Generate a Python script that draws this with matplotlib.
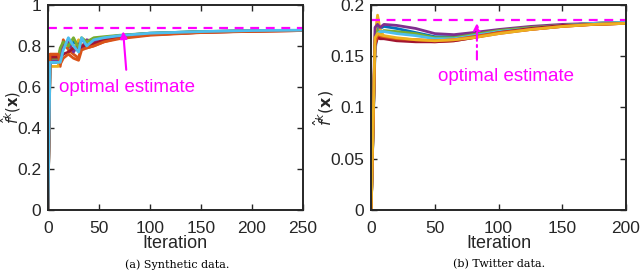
import matplotlib
matplotlib.use("Agg")
import matplotlib.pyplot as plt
from matplotlib.ticker import FuncFormatter

# ---------------- data ----------------
syn_iter = [0, 2, 10, 12, 15, 20, 25, 30, 33, 38, 45, 55, 70, 100, 150, 200, 250]
syn_s1 = [0, 0.720, 0.720, 0.780, 0.800, 0.790, 0.820, 0.800, 0.830, 0.810, 0.830, 0.840, 0.850, 0.862, 0.870, 0.874, 0.876]
syn_s2 = [0, 0.750, 0.750, 0.700, 0.830, 0.780, 0.760, 0.740, 0.800, 0.790, 0.800, 0.820, 0.840, 0.855, 0.866, 0.872, 0.875]
syn_s3 = [0, 0.700, 0.700, 0.770, 0.790, 0.810, 0.780, 0.830, 0.800, 0.820, 0.820, 0.840, 0.845, 0.858, 0.868, 0.873, 0.876]
syn_s4 = [0, 0.730, 0.730, 0.760, 0.800, 0.820, 0.770, 0.810, 0.790, 0.830, 0.820, 0.835, 0.850, 0.860, 0.869, 0.874, 0.876]
syn_s5 = [0, 0.740, 0.740, 0.790, 0.820, 0.800, 0.840, 0.790, 0.840, 0.820, 0.840, 0.845, 0.852, 0.862, 0.870, 0.874, 0.876]
syn_s6 = [0, 0.745, 0.745, 0.740, 0.760, 0.770, 0.790, 0.780, 0.800, 0.800, 0.810, 0.830, 0.840, 0.855, 0.866, 0.872, 0.875]
syn_s7 = [0, 0.760, 0.760, 0.710, 0.740, 0.760, 0.740, 0.730, 0.780, 0.790, 0.800, 0.820, 0.835, 0.852, 0.865, 0.871, 0.875]
syn_s8 = [0, 0.720, 0.720, 0.720, 0.780, 0.840, 0.800, 0.770, 0.840, 0.800, 0.830, 0.840, 0.850, 0.862, 0.870, 0.875, 0.877]
syn_series = [syn_s1, syn_s2, syn_s3, syn_s4, syn_s5, syn_s6, syn_s7, syn_s8]
syn_optimal = 0.885

tw_iter = [0, 3, 5, 7, 10, 20, 35, 50, 65, 80, 100, 125, 150, 175, 200]
tw_s1 = [0, 0.165, 0.178, 0.177, 0.179, 0.177, 0.173, 0.169, 0.169, 0.172, 0.175, 0.178, 0.180, 0.182, 0.183]
tw_s2 = [0, 0.165, 0.170, 0.169, 0.168, 0.166, 0.165, 0.164, 0.165, 0.168, 0.172, 0.176, 0.179, 0.181, 0.182]
tw_s3 = [0, 0.170, 0.190, 0.176, 0.169, 0.167, 0.166, 0.165, 0.166, 0.169, 0.173, 0.177, 0.180, 0.181, 0.182]
tw_s4 = [0, 0.178, 0.181, 0.178, 0.181, 0.180, 0.177, 0.172, 0.171, 0.173, 0.176, 0.179, 0.181, 0.182, 0.183]
tw_s5 = [0, 0.160, 0.175, 0.173, 0.175, 0.174, 0.172, 0.168, 0.168, 0.171, 0.175, 0.178, 0.180, 0.182, 0.183]
tw_s6 = [0, 0.155, 0.172, 0.174, 0.174, 0.172, 0.170, 0.167, 0.167, 0.170, 0.174, 0.177, 0.180, 0.182, 0.183]
tw_s7 = [0, 0.160, 0.168, 0.167, 0.167, 0.165, 0.164, 0.164, 0.165, 0.168, 0.173, 0.177, 0.180, 0.181, 0.182]
tw_s8 = [0, 0.162, 0.171, 0.170, 0.169, 0.167, 0.166, 0.165, 0.166, 0.169, 0.173, 0.176, 0.179, 0.181, 0.182]
tw_s9 = [0, 0.168, 0.172, 0.171, 0.170, 0.168, 0.166, 0.165, 0.166, 0.168, 0.172, 0.176, 0.179, 0.181, 0.182]
tw_series = [tw_s1, tw_s2, tw_s3, tw_s4, tw_s5, tw_s6, tw_s7, tw_s8, tw_s9]
tw_optimal = 0.185

syn_colors = ["#0072BD", "#D95319", "#EDB120", "#7E2F8E", "#77AC30", "#A2142F", "#D95319", "#4DBEEE"]
tw_colors = ["#0072BD", "#D95319", "#EDB120", "#7E2F8E", "#77AC30", "#4DBEEE", "#A2142F", "#D95319", "#EDB120"]

MAG = "#FF00FF"
SANS = "Liberation Sans"
INK = "#262626"

fig = plt.figure(figsize=(6.4, 2.73), dpi=100)
axL = fig.add_axes([0.075, 0.231, 0.398, 0.751])
axR = fig.add_axes([0.580, 0.231, 0.398, 0.751])


def style(ax, ylab_x, ysize):
    for sp in ax.spines.values():
        sp.set_linewidth(1.4)
        sp.set_color(INK)
    ax.tick_params(direction="in", top=True, right=True, length=4, width=1.0,
                   labelsize=12.5, colors=INK)
    ax.tick_params(axis="x", pad=8)
    ax.tick_params(axis="y", pad=5)
    for lab in ax.get_xticklabels() + ax.get_yticklabels():
        lab.set_fontfamily(SANS)
    xl = ax.set_xlabel("Iteration", fontsize=13, family=SANS, color=INK)
    ax.xaxis.set_label_coords(0.5, -0.165)
    xl.set_va("center")
    yl = ax.set_ylabel(r"$\hat{f}^k(\mathbf{x})$", fontsize=ysize, color=INK)
    ax.yaxis.set_label_coords(ylab_x, 0.5)
    yl.set_va("center")


fmt = FuncFormatter(lambda v, p: ("%g" % round(v, 3)))

# left
for s, c in zip(syn_series, syn_colors):
    axL.plot(syn_iter, s, color=c, lw=2.0)
axL.axhline(syn_optimal, color=MAG, ls=(0, (4, 3)), lw=1.6)
axL.set_xlim(0, 250)
axL.set_ylim(0, 1)
axL.set_xticks([0, 50, 100, 150, 200, 250])
axL.set_yticks([0, 0.2, 0.4, 0.6, 0.8, 1])
axL.yaxis.set_major_formatter(fmt)
axL.annotate("", xy=(73.5, syn_optimal), xytext=(77, 0.67),
             arrowprops=dict(arrowstyle="-|>", color=MAG, lw=1.5, mutation_scale=10))
axL.text(78, 0.595, "optimal estimate", color=MAG, fontsize=13.5, family=SANS,
         ha="center", va="center")
style(axL, -0.146, 10.5)

# right
for s, c in zip(tw_series, tw_colors):
    axR.plot(tw_iter, s, color=c, lw=2.0)
axR.axhline(tw_optimal, color=MAG, ls=(0, (4, 3)), lw=1.6)
axR.set_xlim(0, 200)
axR.set_ylim(0, 0.2)
axR.set_xticks([0, 50, 100, 150, 200])
axR.set_yticks([0, 0.05, 0.1, 0.15, 0.2])
axR.yaxis.set_major_formatter(fmt)
axR.annotate("", xy=(83, tw_optimal), xytext=(83, 0.144),
             arrowprops=dict(arrowstyle="-|>", color=MAG, lw=1.5, ls=(0, (4, 2, 1, 2)),
                             mutation_scale=10))
axR.text(106, 0.130, "optimal estimate", color=MAG, fontsize=13.5, family=SANS,
         ha="center", va="center")
style(axR, -0.185, 11.5)

fig.text(0.277, 0.032, "(a) Synthetic data.", fontsize=8, family="DejaVu Serif",
         ha="center", va="center")
fig.text(0.780, 0.032, "(b) Twitter data.", fontsize=8, family="DejaVu Serif",
         ha="center", va="center")

fig.savefig("out.png", dpi=100)
